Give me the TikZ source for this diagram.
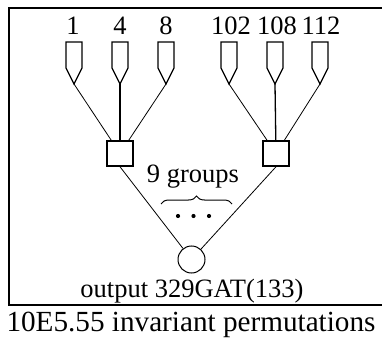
\documentclass[tikz,border=0pt]{standalone}
\usepackage{fontspec}
\setmainfont{Liberation Serif}
\usetikzlibrary{decorations.pathreplacing}
\begin{document}
\begin{tikzpicture}[x=1pt,y=1pt,
  lbl/.style={anchor=base,inner sep=0pt,font=\fontsize{26.5}{30}\selectfont},
  captext/.style={anchor=base,inner sep=0pt,font=\fontsize{29.2}{34}\selectfont},
  gbox/.style={draw,line width=1.5pt,minimum width=26pt,minimum height=25pt,inner sep=0pt},
  gcirc/.style={draw,circle,line width=1pt,minimum size=27pt,inner sep=0pt},
  wire/.style={line width=0.8pt},
  mwire/.style={line width=1.3pt},
  inpin/.pic={\draw[line width=1.3pt,line join=miter] (-8,0) -- (8,0) -- (8,-26) -- (0,-42) -- (-8,-26) -- cycle;
              \coordinate (-tip) at (0,-42);}]
\useasboundingbox (0,0) rectangle (382,-339);
\clip (0,0) rectangle (382,-339);
\draw[line width=1.5pt] (9,-8) rectangle (400,-305);
% labels
\node[lbl] (l1) at (73,-35) {1};
\node[lbl] (l4) at (120,-35) {4};
\node[lbl] (l8) at (166,-35) {8};
\node[lbl] (l102) at (231,-35) {102};
\node[lbl] (l108) at (277,-35) {108};
\node[lbl] (l112) at (321,-35) {112};
% input pins
\pic (i1) at (74,-42) {inpin};
\pic (i4) at (120,-42) {inpin};
\pic (i8) at (166,-42) {inpin};
\pic (i102) at (229,-42) {inpin};
\pic (i108) at (275,-42) {inpin};
\pic (i112) at (320,-42) {inpin};
% boxes
\node[gbox] (b1) at (120,-153.5) {};
\node[gbox] (b2) at (276,-153.5) {};
\node[gcirc] (c) at (191.5,-259.5) {};
\draw[wire] (i1-tip) -- (b1);
\draw[mwire] (i4-tip) -- (b1);
\draw[wire] (i8-tip) -- (b1);
\draw[wire] (i102-tip) -- (b2);
\draw[mwire] (i108-tip) -- (b2);
\draw[wire] (i112-tip) -- (b2);
\draw[wire] (b1.south) -- (c);
\draw[wire] (b2.south) -- (c);
% groups
\node[lbl] (g) at (193,-182) {9 groups};
\coordinate (bl) at (161,-204);
\coordinate (br) at (232,-204);
\draw[line width=1pt,decorate,decoration={brace,amplitude=8pt}] (bl) -- (br);
\fill (178,-216) circle (2.1pt) (193.5,-216) circle (2.1pt) (209,-216) circle (2.1pt);
\node[lbl] (out) at (192,-297) {output 329GAT(133)};
\node[captext] (capt) at (191,-331.5) {10E5.55 invariant permutations};
\end{tikzpicture}
\end{document}
